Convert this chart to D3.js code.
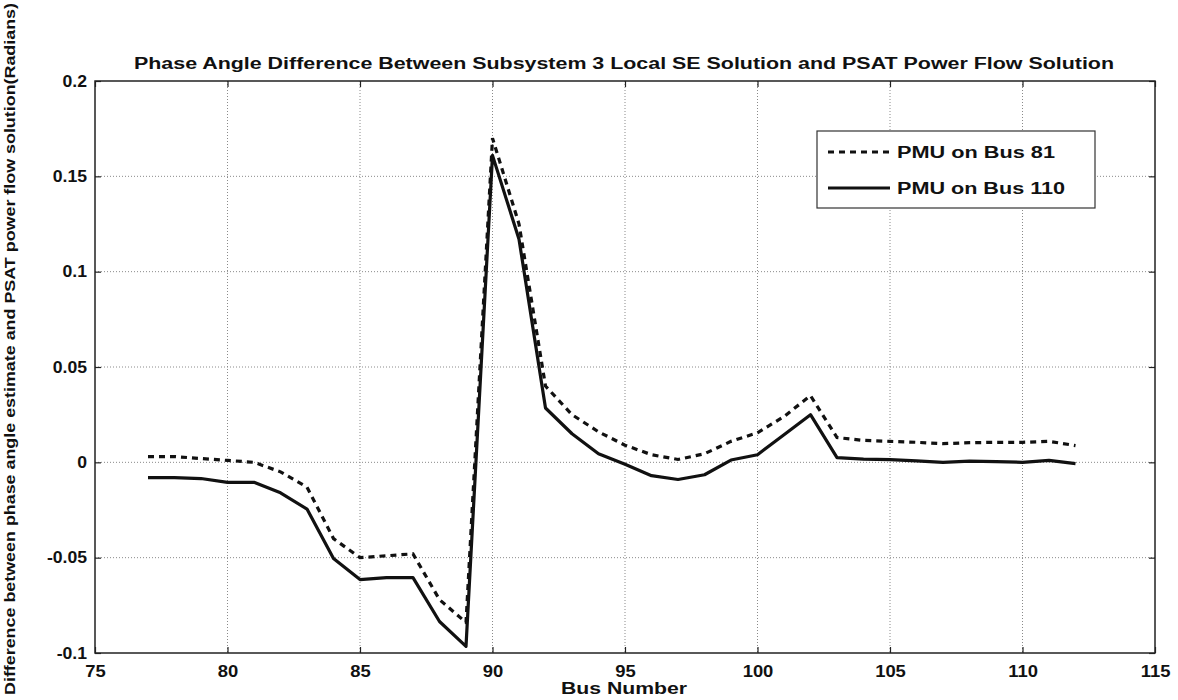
<!DOCTYPE html>
<html>
<head>
<meta charset="utf-8">
<script src="https://d3js.org/d3.v7.min.js"></script>
<style>
  body { margin: 0; background: #fff; }
  text { font-family: "Liberation Sans", Arial, sans-serif; font-weight: bold; fill: #111; }
</style>
</head>
<body>
<svg width="1178" height="700"></svg>
<script>
// values
var buses = [77, 78, 79, 80, 81, 82, 83, 84, 85, 86, 87, 88, 89, 90, 91, 92, 93, 94,
             95, 96, 97, 98, 99, 100, 101, 102, 103, 104, 105, 106, 107, 108, 109, 110, 111, 112];

var pmu81 = [0.003, 0.003, 0.002, 0.001, 0.000, -0.005, -0.013, -0.040, -0.050, -0.049, -0.048, -0.072, -0.084,
             0.170, 0.125, 0.040, 0.025, 0.016, 0.009, 0.004, 0.0015, 0.0045, 0.011, 0.0155, 0.024, 0.035,
             0.013, 0.0115, 0.011, 0.0105, 0.0098, 0.0103, 0.0105, 0.0105, 0.011, 0.0088];

var pmu110 = [-0.008, -0.008, -0.0085, -0.0105, -0.0105, -0.016, -0.0245, -0.0505, -0.0615, -0.0605, -0.0605, -0.0835, -0.0965,
              0.161, 0.117, 0.0285, 0.015, 0.0045, -0.001, -0.007, -0.009, -0.0065, 0.0012, 0.004, 0.0145, 0.025,
              0.0025, 0.0017, 0.0014, 0.0008, 0.0, 0.0006, 0.0004, 0.0, 0.001, -0.0007];

var xTicks = [75, 80, 85, 90, 95, 100, 105, 110, 115];
var yTicks = [-0.1, -0.05, 0, 0.05, 0.1, 0.15, 0.2];

var seriesNames = ["PMU on Bus 81", "PMU on Bus 110"];

var svg = d3.select("svg"),
    width = +svg.attr("width"),
    height = +svg.attr("height");

var plotL = 95, plotR = 1155, plotT = 81, plotB = 653;

var x = d3.scaleLinear().domain([75, 115]).range([plotL, plotR]);
var y = d3.scaleLinear().domain([-0.1, 0.2]).range([plotB, plotT]);

// stretch text horizontally (the source picture is widened)
function stretch(sel, k) {
  sel.each(function() {
    var w = this.getComputedTextLength();
    d3.select(this).attr("textLength", w * k).attr("lengthAdjust", "spacingAndGlyphs");
  });
}

// grid
var grid = svg.append("g").attr("stroke", "#8a8a8a").attr("stroke-width", 1).attr("stroke-dasharray", "1,2");
grid.selectAll(".vx")
    .data(xTicks.slice(1, -1))
  .enter().append("line")
    .attr("x1", function(d) { return x(d); })
    .attr("x2", function(d) { return x(d); })
    .attr("y1", plotT)
    .attr("y2", plotB);
grid.selectAll(".hy")
    .data(yTicks.slice(1, -1))
  .enter().append("line")
    .attr("x1", plotL)
    .attr("x2", plotR)
    .attr("y1", function(d) { return y(d); })
    .attr("y2", function(d) { return y(d); });

// axes with ticks pointing inward, like MATLAB
var fmtY = function(d) { return String(+d.toFixed(2)); };

var gx = svg.append("g")
    .attr("transform", "translate(0," + plotB + ")")
    .call(d3.axisBottom(x).tickValues(xTicks).tickSize(-6).tickPadding(13).tickFormat(d3.format("d")));
var gy = svg.append("g")
    .attr("transform", "translate(" + plotL + ",0)")
    .call(d3.axisLeft(y).tickValues(yTicks).tickSize(-6).tickPadding(8).tickFormat(fmtY));
svg.append("g")
    .attr("transform", "translate(0," + plotT + ")")
    .call(d3.axisTop(x).tickValues(xTicks).tickSize(-6).tickFormat(""));
svg.append("g")
    .attr("transform", "translate(" + plotR + ",0)")
    .call(d3.axisRight(y).tickValues(yTicks).tickSize(-6).tickFormat(""));

svg.selectAll(".domain").remove();
svg.selectAll(".tick line").attr("stroke", "#222").attr("stroke-width", 1.2);

gx.selectAll("text").style("font-size", "16px").attr("fill", "#111");
gy.selectAll("text").style("font-size", "16px").attr("fill", "#111");
stretch(gx.selectAll("text"), 1.15);
stretch(gy.selectAll("text"), 1.1);

// box
svg.append("rect")
    .attr("x", plotL).attr("y", plotT)
    .attr("width", plotR - plotL).attr("height", plotB - plotT)
    .attr("fill", "none").attr("stroke", "#222").attr("stroke-width", 1.5);

// lines
var lineGen = d3.line()
    .x(function(d, i) { return x(buses[i]); })
    .y(function(d) { return y(d); });

svg.append("path")
    .datum(pmu81)
    .attr("fill", "none")
    .attr("stroke", "#111")
    .attr("stroke-width", 3.2)
    .attr("stroke-dasharray", "6,5")
    .attr("d", lineGen);

svg.append("path")
    .datum(pmu110)
    .attr("fill", "none")
    .attr("stroke", "#111")
    .attr("stroke-width", 3.2)
    .attr("stroke-linejoin", "round")
    .attr("d", lineGen);

// legend
var legend = svg.append("g");
legend.append("rect")
    .attr("x", 817).attr("y", 131)
    .attr("width", 278).attr("height", 77)
    .attr("fill", "#fff").attr("stroke", "#333").attr("stroke-width", 1.2);

legend.selectAll(".item")
    .data(seriesNames)
  .enter().append("line")
    .attr("x1", 828).attr("x2", 890)
    .attr("y1", function(d, i) { return 152 + i * 36; })
    .attr("y2", function(d, i) { return 152 + i * 36; })
    .attr("stroke", "#111")
    .attr("stroke-width", 3.2)
    .attr("stroke-dasharray", function(d, i) { return i == 0 ? "6,5" : null; });

legend.selectAll("text")
    .data(seriesNames)
  .enter().append("text")
    .attr("x", 897)
    .attr("y", function(d, i) { return 158 + i * 36; })
    .style("font-size", "16px")
    .attr("textLength", function(d, i) { return i == 0 ? 158 : 168; })
    .attr("lengthAdjust", "spacingAndGlyphs")
    .text(function(d) { return d; });

// title and axis labels
svg.append("text")
    .attr("x", 624)
    .attr("y", 69)
    .attr("text-anchor", "middle")
    .style("font-size", "16px")
    .attr("textLength", 980)
    .attr("lengthAdjust", "spacingAndGlyphs")
    .text("Phase Angle Difference Between Subsystem 3 Local SE Solution and PSAT Power Flow Solution");

svg.append("text")
    .attr("x", 624)
    .attr("y", 694)
    .attr("text-anchor", "middle")
    .style("font-size", "16px")
    .attr("textLength", 126)
    .attr("lengthAdjust", "spacingAndGlyphs")
    .text("Bus Number");

svg.append("text")
    .attr("transform", "translate(15,349) rotate(-90)")
    .attr("text-anchor", "middle")
    .style("font-size", "15px")
    .attr("textLength", 692)
    .attr("lengthAdjust", "spacingAndGlyphs")
    .text("Difference between phase angle estimate and PSAT power flow solution(Radians)");
</script>
</body>
</html>
